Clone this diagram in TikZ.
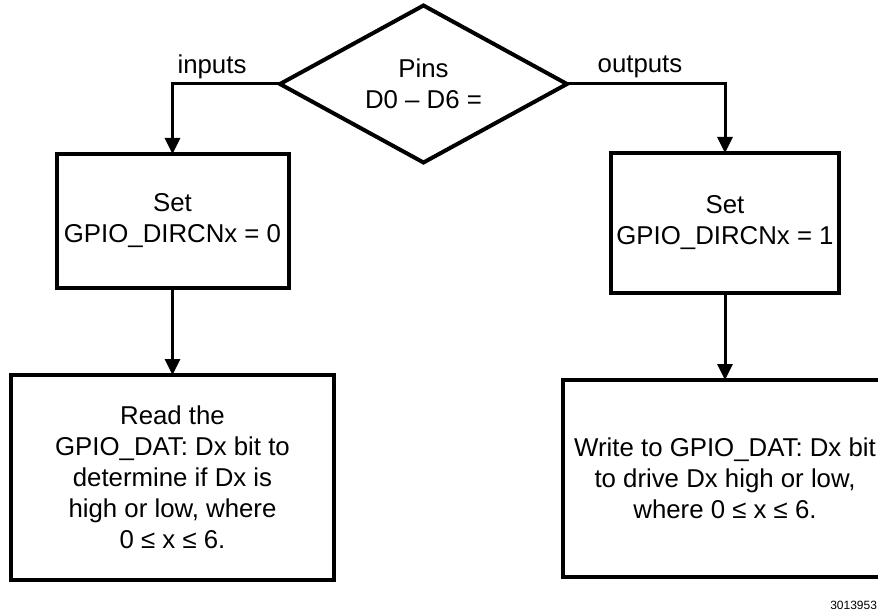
\documentclass[tikz,border=0pt]{standalone}
\usepackage{fontspec}
\setmainfont{Liberation Sans}
\usetikzlibrary{shapes.geometric,arrows.meta}
\begin{document}
\begin{tikzpicture}[x=1pt,y=-1pt,
  every node/.style={font=\fontsize{25.8}{31}\selectfont, outer sep=0pt},
  boxa/.style={draw, line width=4pt, align=center, inner sep=0pt},
  boxb/.style={draw, line width=4.8pt, align=center, inner sep=0pt},
  dec/.style={draw, diamond, line width=4pt, align=center, inner sep=0pt, aspect=1.83,
     minimum width=287pt, minimum height=157pt},
  conn/.style={line width=3pt, -{Triangle[width=15pt,length=16pt]}},
  lbl/.style={inner sep=0pt}
]
\clip (0,0) rectangle (878,612);
\fill[white] (0,0) rectangle (878,612);

\node[dec] (dia) at (423.5,84) {Pins\\D0 -- D6 =};
\node[boxa, minimum width=232pt, minimum height=134pt] (set0) at (172.5,221) {Set\\GPIO\_DIRCNx = 0};
\node[boxa, minimum width=228pt, minimum height=140pt] (set1) at (725,223) {Set\\GPIO\_DIRCNx = 1};
\node[boxb, minimum width=323pt, minimum height=205pt] (read) at (172.5,477.5)
  {Read the\\GPIO\_DAT: Dx bit to\\determine if Dx is\\high or low, where\\0 ≤ x ≤ 6.};
\node[boxb, minimum width=324pt, minimum height=197pt] (write) at (725,478.5)
  {Write to GPIO\_DAT: Dx bit\\to drive Dx high or low,\\where 0 ≤ x ≤ 6.};

\node[lbl] (in) at (212,67) {inputs};
\node[lbl] (out) at (640,67) {outputs};
\node[lbl, anchor=east, font=\fontsize{12}{14}\selectfont] (fig) at (877,605) {3013953};

\draw[conn] (dia.west) -| (set0.north);
\draw[conn] (dia.east) -| (set1.north);
\draw[conn] (set0.south) -- (read.north);
\draw[conn] (set1.south) -- (write.north);
\end{tikzpicture}
\end{document}
